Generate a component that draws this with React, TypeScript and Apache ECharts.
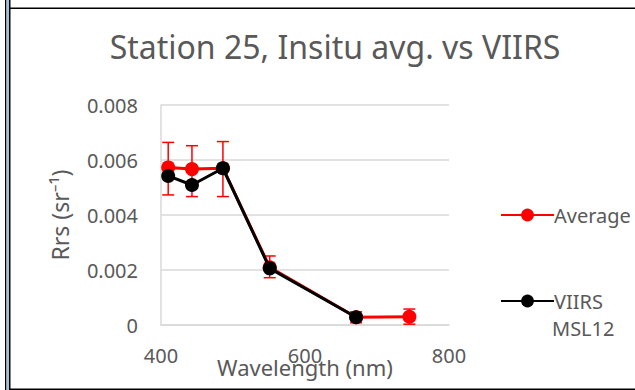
import React, { useEffect, useRef } from "react";
import * as echarts from "echarts";

const TITLE = "Station 25, Insitu avg. vs VIIRS";
const wavelengths = [410, 443, 486, 551, 671, 745];
const avgValues = [0.00573, 0.00567, 0.0057, 0.0021, 0.00028, 0.0003];
const avgErrLow = [0.00473, 0.00467, 0.00467, 0.00172, 0.00008, 0.00003];
const avgErrHigh = [0.00664, 0.00652, 0.00667, 0.00251, 0.00048, 0.00058];
const viirsWavelengths = [410, 443, 486, 551, 671];
const viirsValues = [0.00542, 0.00509, 0.0057, 0.00206, 0.00028];
const xTicks = { min: 400, max: 800, interval: 200 };
const yTicks = { min: 0, max: 0.008, interval: 0.002 };

const FONT = "Noto Sans";
const TEXT = "#595959";

export default function App() {
  const ref = useRef<HTMLDivElement>(null);
  useEffect(() => {
    if (!ref.current) return;
    const chart = echarts.init(ref.current, undefined, { renderer: "svg" });
    const avgData = wavelengths.map((w, i) => [w, avgValues[i]]);
    const viirsData = viirsWavelengths.map((w, i) => [w, viirsValues[i]]);
    const errData = wavelengths.map((w, i) => [w, avgErrLow[i], avgErrHigh[i]]);
    chart.setOption({
      animation: false,
      textStyle: { fontFamily: FONT },
      title: {
        text: TITLE,
        left: 330,
        textAlign: "center",
        top: 25,
        textStyle: { fontFamily: FONT, fontSize: 32, fontWeight: "normal", color: TEXT },
      },
      grid: { left: 161, right: 186, top: 105, bottom: 65, outerBoundsMode: "none", containLabel: false },
      xAxis: {
        type: "value",
        min: xTicks.min,
        max: xTicks.max,
        interval: xTicks.interval,
        name: "Wavelength (nm)",
        nameLocation: "middle",
        nameGap: 31,
        nameMoveOverlap: false,
        nameTextStyle: { fontFamily: FONT, fontSize: 22, color: TEXT },
        axisLine: { show: true, lineStyle: { color: "#d9d9d9", width: 1.5 } },
        axisTick: { show: false },
        splitLine: { show: false },
        axisLabel: { fontFamily: FONT, fontSize: 20, color: TEXT, margin: 20 },
      },
      yAxis: {
        type: "value",
        min: yTicks.min,
        max: yTicks.max,
        interval: yTicks.interval,
        name: "Rrs (sr⁻¹)",
        nameLocation: "middle",
        nameGap: 90,
        nameMoveOverlap: false,
        nameTextStyle: { fontFamily: FONT, fontSize: 23, color: TEXT },
        axisLine: { show: true, lineStyle: { color: "#d9d9d9", width: 1.5 } },
        axisTick: { show: false },
        splitLine: { show: true, lineStyle: { color: "#d9d9d9", width: 1.5 } },
        axisLabel: {
          fontFamily: FONT,
          fontSize: 20,
          color: TEXT,
          margin: 23,
          formatter: (v: number) => (v === 0 ? "0" : v.toFixed(3)),
        },
      },
      legend: [
        {
          data: ["Average"],
          left: 495,
          top: 200,
          itemWidth: 53,
          itemHeight: 16,
          itemGap: 0,
          textStyle: { fontFamily: FONT, fontSize: 20, color: TEXT, padding: [0, 0, 0, -5] },
        },
        {
          data: ["VIIRS MSL12"],
          left: 495,
          top: 286,
          itemWidth: 53,
          itemHeight: 16,
          formatter: () => "VIIRS",
          textStyle: { fontFamily: FONT, fontSize: 20, color: TEXT, padding: [0, 0, 0, -5] },
        },
      ],
      graphic: [
        { type: "text", left: 552, top: 318, style: { text: "MSL12", fontFamily: FONT, fontSize: 20, fill: TEXT } },
        { type: "rect", shape: { x: 5, y: 0, width: 1.5, height: 390 }, style: { fill: "#000" } },
        { type: "rect", shape: { x: 6.5, y: 0, width: 2.5, height: 390 }, style: { fill: "#a6bfd9" } },
        { type: "rect", shape: { x: 9, y: 0, width: 1.5, height: 390 }, style: { fill: "#000" } },
        { type: "rect", shape: { x: 9, y: 7.5, width: 626, height: 1.5 }, style: { fill: "#000" } },
        { type: "rect", shape: { x: 9, y: 388.5, width: 626, height: 1.5 }, style: { fill: "#000" } },
      ],
      series: [
        {
          name: "Average",
          type: "line",
          data: avgData,
          color: "#ff0000",
          symbol: "circle",
          symbolSize: 14,
          lineStyle: { width: 3, color: "#ff0000" },
          itemStyle: { color: "#ff0000" },
          z: 2,
        },
        {
          name: "AvgErr",
          type: "custom",
          data: errData,
          z: 3,
          renderItem: (params: any, api: any) => {
            const x = api.value(0);
            const lo = api.coord([x, api.value(1)]);
            const hi = api.coord([x, api.value(2)]);
            const hw = 6;
            const style = { stroke: "#ff0000", lineWidth: 1.5 };
            return {
              type: "group",
              children: [
                { type: "line", shape: { x1: hi[0], y1: hi[1], x2: lo[0], y2: lo[1] }, style },
                { type: "line", shape: { x1: hi[0] - hw, y1: hi[1], x2: hi[0] + hw, y2: hi[1] }, style },
                { type: "line", shape: { x1: lo[0] - hw, y1: lo[1], x2: lo[0] + hw, y2: lo[1] }, style },
              ],
            };
          },
        },
        {
          name: "VIIRS MSL12",
          type: "line",
          data: viirsData,
          color: "#000000",
          symbol: "circle",
          symbolSize: 14,
          lineStyle: { width: 3, color: "#000000" },
          itemStyle: { color: "#000000" },
          z: 4,
        },
      ],
    });
    return () => chart.dispose();
  }, []);
  return (
    <div
      ref={ref}
      style={{ position: "fixed", left: 0, top: 0, width: 635, height: 390, background: "#fff" }}
    />
  );
}
